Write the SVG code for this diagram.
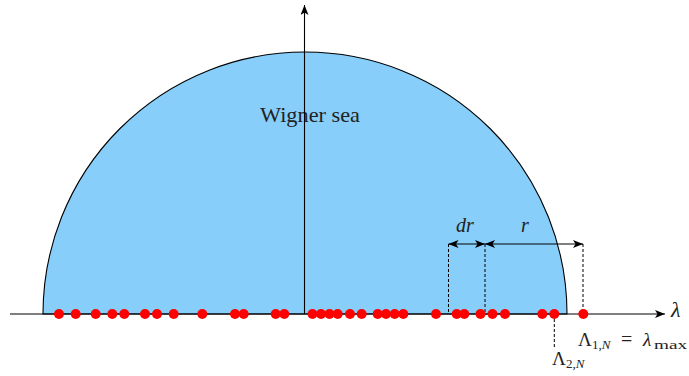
<svg xmlns="http://www.w3.org/2000/svg" width="689" height="376" viewBox="0 0 689 376">
<style>
.ax{stroke:#000;stroke-width:1.1;fill:none}
.dash{stroke:#000;stroke-width:1;stroke-dasharray:3,2;fill:none}
.dot{fill:#ff0000}
.t{font-family:"Liberation Serif","DejaVu Serif",serif;fill:#222}
.it{font-style:italic}
</style>
<defs>
<marker id="ah" viewBox="0 0 10 8" refX="10" refY="4" markerWidth="10" markerHeight="8" markerUnits="userSpaceOnUse" orient="auto-start-reverse">
<path d="M0,0 L10,4 L0,8 L2.5,4 Z" fill="#000"/>
</marker>
</defs>
<g id="sea">
<path d="M43,314 A262,262 0 0 1 567,314 Z" fill="#87cefa" stroke="#000" stroke-width="1.1"/>
<text class="t" x="260" y="122" font-size="22" textLength="100" lengthAdjust="spacingAndGlyphs">Wigner sea</text>
</g>
<g id="connectors">
<line class="ax" x1="10" y1="314" x2="665" y2="314" marker-end="url(#ah)"/>
<line class="ax" x1="304.5" y1="314" x2="304.5" y2="5" marker-end="url(#ah)"/>
<line class="dash" x1="448.5" y1="244" x2="448.5" y2="314"/>
<line class="dash" x1="485" y1="244" x2="485" y2="314"/>
<line class="dash" x1="583" y1="244" x2="583" y2="314"/>
<line class="dash" x1="554.3" y1="314" x2="554.3" y2="347"/>
<line class="ax" x1="448.5" y1="244" x2="485" y2="244" marker-start="url(#ah)" marker-end="url(#ah)"/>
<line class="ax" x1="485" y1="244" x2="583" y2="244" marker-start="url(#ah)" marker-end="url(#ah)"/>
</g>
<g id="eigenvalues">
<circle class="dot" cx="59" cy="314" r="5"/>
<circle class="dot" cx="75.7" cy="314" r="5"/>
<circle class="dot" cx="95.7" cy="314" r="5"/>
<circle class="dot" cx="112.3" cy="314" r="5"/>
<circle class="dot" cx="124.3" cy="314" r="5"/>
<circle class="dot" cx="145" cy="314" r="5"/>
<circle class="dot" cx="157" cy="314" r="5"/>
<circle class="dot" cx="173.7" cy="314" r="5"/>
<circle class="dot" cx="202.3" cy="314" r="5"/>
<circle class="dot" cx="235" cy="314" r="5"/>
<circle class="dot" cx="243.7" cy="314" r="5"/>
<circle class="dot" cx="275.7" cy="314" r="5"/>
<circle class="dot" cx="284.3" cy="314" r="5"/>
<circle class="dot" cx="312.5" cy="314" r="5"/>
<circle class="dot" cx="321" cy="314" r="5"/>
<circle class="dot" cx="329.5" cy="314" r="5"/>
<circle class="dot" cx="337.7" cy="314" r="5"/>
<circle class="dot" cx="350" cy="314" r="5"/>
<circle class="dot" cx="361.7" cy="314" r="5"/>
<circle class="dot" cx="377.7" cy="314" r="5"/>
<circle class="dot" cx="386" cy="314" r="5"/>
<circle class="dot" cx="394.7" cy="314" r="5"/>
<circle class="dot" cx="403.3" cy="314" r="5"/>
<circle class="dot" cx="436" cy="314" r="5"/>
<circle class="dot" cx="456.7" cy="314" r="5"/>
<circle class="dot" cx="464.3" cy="314" r="5"/>
<circle class="dot" cx="480.5" cy="314" r="5"/>
<circle class="dot" cx="492.5" cy="314" r="5"/>
<circle class="dot" cx="505" cy="314" r="5"/>
<circle class="dot" cx="542.3" cy="314" r="5"/>
<circle class="dot" cx="554.3" cy="314" r="5"/>
<circle class="dot" cx="583.3" cy="314" r="5"/>
</g>
<g id="labels">
<text class="t it" x="671" y="317" font-size="22">λ</text>
<text class="t it" x="456" y="232" font-size="20">dr</text>
<text class="t it" x="521" y="232" font-size="20">r</text>
<text class="t" y="346" font-size="19"><tspan x="578">Λ</tspan><tspan x="592" dy="3" font-size="13">1,</tspan><tspan class="it" font-size="13">N</tspan><tspan x="621" dy="-3" font-size="20">=</tspan><tspan x="643" class="it" font-size="19">λ</tspan><tspan x="654" dy="3" font-size="13" textLength="33" lengthAdjust="spacingAndGlyphs">max</tspan></text>
<text class="t" y="365" font-size="19"><tspan x="552">Λ</tspan><tspan x="566" dy="3" font-size="13">2,</tspan><tspan class="it" font-size="13">N</tspan></text>
</g>
</svg>
